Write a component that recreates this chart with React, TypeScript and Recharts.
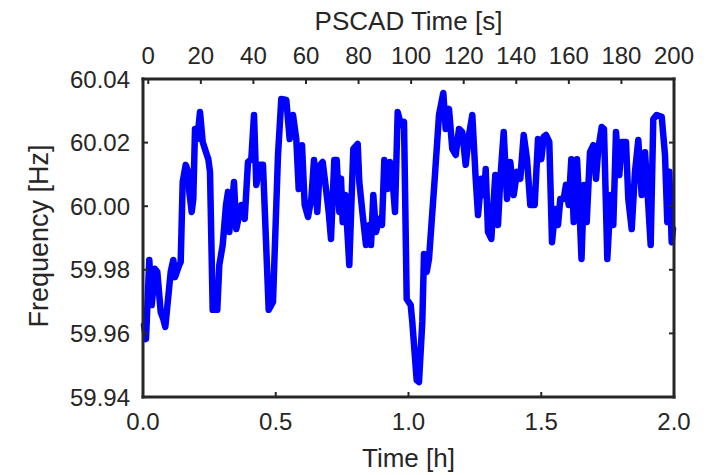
import React from "react";
import { LineChart, Line, XAxis, YAxis } from "recharts";

// Time in hours (bottom axis) and measured frequency in Hz
const timeHours = [
  0.0038, 0.0113, 0.0237, 0.0328, 0.0452, 0.0539, 0.0667, 0.0765, 0.084, 0.1043,
  0.1141, 0.1205, 0.1367, 0.142, 0.1495, 0.1608, 0.1706, 0.1744, 0.1834, 0.1895,
  0.1959, 0.2045, 0.2147, 0.2249, 0.2373, 0.246, 0.2524, 0.2625, 0.2798, 0.2874,
  0.3002, 0.3126, 0.3202, 0.325, 0.3427, 0.3514, 0.3702, 0.3831, 0.3955, 0.4079,
  0.4181, 0.4267, 0.4395, 0.452, 0.4734, 0.4896, 0.5085, 0.5209, 0.5397, 0.5525,
  0.565, 0.5774, 0.5864, 0.5989, 0.609, 0.6215, 0.6339, 0.6441, 0.6565, 0.6667,
  0.6768, 0.6893, 0.6994, 0.7081, 0.7205, 0.7296, 0.7394, 0.7458, 0.7522, 0.762,
  0.777, 0.7921, 0.8087, 0.8147, 0.8275, 0.8399, 0.8524, 0.8588, 0.8674, 0.8776,
  0.89, 0.9002, 0.9089, 0.9217, 0.9303, 0.9405, 0.9492, 0.9593, 0.9718, 0.9831,
  0.9932, 1.0083, 1.0143, 1.0309, 1.0395, 1.052, 1.0584, 1.0685, 1.0772, 1.0987,
  1.1149, 1.1311, 1.1401, 1.1525, 1.165, 1.1778, 1.1902, 1.2026, 1.2154, 1.2279,
  1.2403, 1.2531, 1.2618, 1.2742, 1.2844, 1.2908, 1.2994, 1.3119, 1.3269, 1.3371,
  1.3458, 1.3586, 1.371, 1.3834, 1.3962, 1.4087, 1.4211, 1.4339, 1.4463, 1.4588,
  1.4753, 1.4878, 1.5002, 1.5092, 1.5179, 1.5303, 1.5405, 1.5529, 1.5631, 1.5718,
  1.5846, 1.5932, 1.6034, 1.6132, 1.6222, 1.6347, 1.6433, 1.6516, 1.661, 1.6712,
  1.6836, 1.696, 1.7062, 1.7149, 1.7277, 1.7363, 1.7488, 1.7616, 1.7714, 1.7815,
  1.794, 1.803, 1.8192, 1.8279, 1.8407, 1.8531, 1.8655, 1.8783, 1.8908, 1.9032,
  1.9122, 1.922, 1.9348, 1.9537, 1.9661, 1.9748, 1.9823, 1.9913, 1.9962,
];

const freqHz = [
  59.9626, 59.9582, 59.9831, 59.9689, 59.9803, 59.9793, 59.9667, 59.9645, 59.962, 59.9793,
  59.9831, 59.9777, 59.9815, 59.9825, 60.0076, 60.013, 60.0108, 60.0045, 59.9982, 60.0023,
  60.0243, 60.0211, 60.0296, 60.0202, 60.017, 60.0148, 60.0108, 59.9674, 59.9674, 59.9815,
  59.9878, 60.0004, 60.0045, 59.9919, 60.0076, 59.9928, 60.0004, 59.996, 60.0139, 60.0148,
  60.0287, 60.0067, 60.013, 60.013, 59.9674, 59.9699, 60.0161, 60.0337, 60.0334, 60.0211,
  60.0287, 60.0211, 60.0054, 60.0192, 60.0004, 59.9966, 60.0023, 60.0145, 59.9982, 60.013,
  60.0139, 60.0054, 59.9982, 59.9897, 60.0145, 60.0145, 59.9982, 60.0086, 59.995, 60.0035,
  59.9815, 60.018, 60.0196, 60.0076, 59.9972, 59.9878, 59.9941, 59.9878, 60.0035, 59.9919,
  59.996, 59.9941, 60.0145, 60.0054, 60.0139, 60.0076, 59.9982, 60.0296, 60.0255, 60.0265,
  59.9708, 59.9689, 59.9636, 59.9453, 59.9447, 59.9636, 59.985, 59.9793, 59.9834, 60.0086,
  60.0287, 60.0356, 60.0243, 60.0306, 60.018, 60.0161, 60.0243, 60.0233, 60.013, 60.0224,
  60.0287, 60.0086, 59.9972, 60.0086, 60.0035, 60.0117, 59.9919, 59.9897, 60.0098, 59.9941,
  60.0086, 60.0233, 60.0023, 60.0139, 60.0035, 60.0108, 60.0086, 60.0224, 60.0148, 60.0004,
  60.0004, 60.0211, 60.0148, 60.0218, 60.0224, 60.0202, 59.9887, 59.9991, 59.9941, 60.0023,
  60.0023, 60.0067, 60.0004, 60.0148, 59.995, 60.0148, 60.0004, 59.9834, 60.0067, 59.995,
  60.017, 60.0192, 60.0086, 60.018, 60.0249, 60.0243, 59.9834, 60.0035, 59.9941, 60.0233,
  60.0098, 60.0202, 60.0202, 60.0023, 59.9928, 60.0108, 60.0208, 60.0035, 60.017, 60.0004,
  59.9878, 60.0274, 60.0287, 60.0281, 60.0161, 59.995, 60.0108, 59.9887, 59.9928,
];

const hourTicks = [0, 0.5, 1, 1.5, 2];
const pscadTicks = [0, 20, 40, 60, 80, 100, 120, 140, 160, 180, 200];
const freqTicks = [59.94, 59.96, 59.98, 60.0, 60.02, 60.04];

const rows = timeHours.map((t, i) => ({ t, f: freqHz[i] }));

const FONT = "'Liberation Sans', Arial, Helvetica, sans-serif";
const INK = "#262626";
const TICK_FS = 24;
const LABEL_FS = 26;
const TICK_LEN = 5;
const frame = { stroke: INK, strokeWidth: 3, strokeLinecap: "square" as const };

const BottomTick = (p: any) => {
  const { x, y, payload } = p;
  const m = 16;
  return (
    <g>
      <line x1={x} x2={x} y1={y - m} y2={y - m - TICK_LEN} stroke={INK} strokeWidth={2} />
      <text x={x} y={y} dy="0.71em" textAnchor="middle" fontSize={TICK_FS} fill={INK} fontFamily={FONT}>
        {Number(payload.value).toFixed(1)}
      </text>
    </g>
  );
};

const TopTick = (p: any) => {
  const { x, y, payload } = p;
  const m = 15;
  return (
    <g>
      <line x1={x} x2={x} y1={y + m} y2={y + m + TICK_LEN} stroke={INK} strokeWidth={2} />
      <text x={x} y={y} textAnchor="middle" fontSize={TICK_FS} fill={INK} fontFamily={FONT}>
        {String(payload.value)}
      </text>
    </g>
  );
};

const LeftTick = (p: any) => {
  const { x, y, payload } = p;
  const m = 13;
  return (
    <g>
      <line x1={x + m} x2={x + m + TICK_LEN} y1={y} y2={y} stroke={INK} strokeWidth={2} />
      <text x={x} y={y} dy="0.355em" textAnchor="end" fontSize={TICK_FS} fill={INK} fontFamily={FONT}>
        {Number(payload.value).toFixed(2)}
      </text>
    </g>
  );
};

const RightTick = (p: any) => {
  const { x, y } = p;
  return <line x1={x} x2={x - TICK_LEN} y1={y} y2={y} stroke={INK} strokeWidth={2} />;
};

const yLabel = (p: any) => {
  const vb = p.viewBox || { x: 0, y: 79, width: 135, height: 318 };
  const cx = vb.x + 30;
  const cy = vb.y + vb.height / 2 - 2;
  return (
    <text
      x={cx}
      y={cy}
      transform={`rotate(-90 ${cx} ${cy})`}
      textAnchor="middle"
      dy="0.36em"
      fontSize={27}
      fill={INK}
      fontFamily={FONT}
    >
      Frequency [Hz]
    </text>
  );
};

const bottomLabel = (p: any) => {
  const vb = p.viewBox || { x: 135, y: 397, width: 531, height: 78 };
  return (
    <text x={vb.x + vb.width / 2} y={vb.y + 70} textAnchor="middle" fontSize={LABEL_FS} fill={INK} fontFamily={FONT}>
      Time [h]
    </text>
  );
};

const topLabel = (p: any) => {
  const vb = p.viewBox || { x: 135, y: 8, width: 531, height: 71 };
  return (
    <text x={vb.x + vb.width / 2} y={vb.y + 21.5} textAnchor="middle" fontSize={LABEL_FS} fill={INK} fontFamily={FONT}>
      PSCAD Time [s]
    </text>
  );
};

export default function App() {
  return (
    <div style={{ width: 700, height: 475, marginTop: -8, background: "#fff" }}>
      <LineChart
        width={700}
        height={475}
        data={rows}
        margin={{ top: 8, right: 33, bottom: 0, left: 0 }}
        style={{ fontFamily: FONT }}
      >
        <XAxis
          xAxisId="bottom"
          dataKey="t"
          type="number"
          orientation="bottom"
          domain={[0, 2]}
          ticks={hourTicks}
          interval={0}
          height={78}
          tickSize={0}
          tickMargin={16}
          tickLine={false}
          axisLine={frame}
          tick={<BottomTick />}
          label={bottomLabel}
        />
        <XAxis
          xAxisId="top"
          dataKey="t"
          type="number"
          orientation="top"
          domain={[-2, 200]}
          allowDataOverflow
          ticks={pscadTicks}
          interval={0}
          height={71}
          tickSize={0}
          tickMargin={15}
          tickLine={false}
          axisLine={frame}
          tick={<TopTick />}
          label={topLabel}
        />
        <YAxis
          yAxisId="left"
          type="number"
          orientation="left"
          domain={[59.94, 60.04]}
          ticks={freqTicks}
          interval={0}
          width={135}
          tickSize={0}
          tickMargin={13}
          tickLine={false}
          axisLine={frame}
          tick={<LeftTick />}
          label={yLabel}
        />
        <YAxis
          yAxisId="right"
          type="number"
          orientation="right"
          domain={[59.94, 60.04]}
          allowDataOverflow
          ticks={freqTicks}
          interval={0}
          width={1}
          tickSize={0}
          tickMargin={0}
          tickLine={false}
          axisLine={frame}
          tick={<RightTick />}
        />
        <Line
          xAxisId="bottom"
          yAxisId="left"
          dataKey="f"
          type="linear"
          stroke="#0000ff"
          strokeWidth={6.5}
          strokeLinejoin="round"
          strokeLinecap="round"
          dot={false}
          activeDot={false}
          isAnimationActive={false}
        />
      </LineChart>
    </div>
  );
}
